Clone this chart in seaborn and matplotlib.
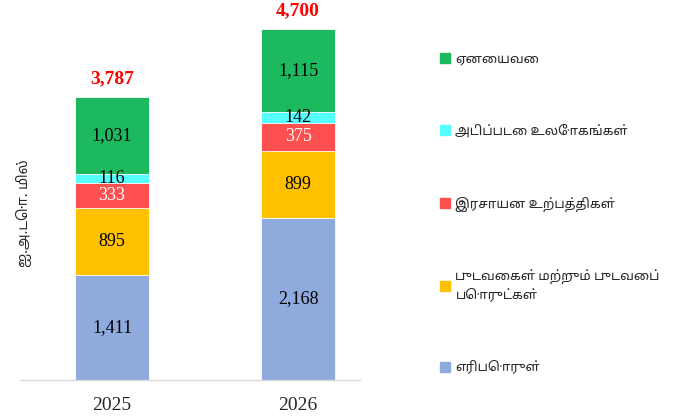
import matplotlib
matplotlib.use("Agg")
import matplotlib.pyplot as plt
import matplotlib.patches as mpatches
import numpy as np
import seaborn as sns

# data (US$ million), stacked bottom -> top
years = ["2025", "2026"]
categories = [
    "எரிபொருள்",
    "புடவைகள் மற்றும் புடவைப்\nபொருட்கள்",
    "இரசாயன உற்பத்திகள்",
    "அடிப்படை உலோகங்கள்",
    "ஏனையவை",
]
fuel = [1411, 2168]
textiles = [895, 899]
chemicals = [333, 375]
base_metals = [116, 142]
others = [1031, 1115]
totals = [3787, 4700]

colors = ["#8faadc", "#ffc000", "#ff5050", "#55ffff", "#1db95f"]
label_colors = ["black", "black", "white", "black", "black"]

tamil = ["Noto Sans Tamil", "DejaVu Sans"]
serif = ["Liberation Serif", "DejaVu Serif"]

sns.set_theme(style="white")
plt.rcParams["font.family"] = tamil

layers = [fuel, textiles, chemicals, base_metals, others]
cum = np.cumsum(np.array(layers), axis=0)

fig = plt.figure(figsize=(6.74, 4.16), dpi=100)
ax = fig.add_axes([20 / 674, 36 / 416, 340 / 674, 380 / 416])

# draw cumulative bars from the top layer down so each covers the previous
for i in range(len(layers) - 1, -1, -1):
    sns.barplot(x=years, y=cum[i], color=colors[i], width=0.4, ax=ax,
                edgecolor="white", linewidth=0.6, saturation=1)

for i, vals in enumerate(layers):
    for j, v in enumerate(vals):
        ax.text(j, cum[i][j] - v / 2, f"{v:,}", ha="center", va="center",
                fontsize=13, color=label_colors[i], family=serif)

for j, t in enumerate(totals):
    ax.text(j, t + 130, f"{t:,}", ha="center", va="bottom", fontsize=14,
            color="#ff0000", fontweight="bold", family=serif)

ax.set_xlim(-0.495, 1.333)
ax.set_ylim(0, 5088)
ax.set_yticks([])
ax.set_ylabel("ஐ.அ.டொ. மில்", fontsize=10, labelpad=2)
ax.yaxis.set_label_coords(0.035, 0.44)
for s in ["top", "right", "left"]:
    ax.spines[s].set_visible(False)
ax.spines["bottom"].set_color("#d9d9d9")
ax.spines["bottom"].set_linewidth(1)
ax.tick_params(axis="x", length=0, pad=12)
for lbl in ax.get_xticklabels():
    lbl.set_fontfamily(serif)
    lbl.set_fontsize(14)

handles = [mpatches.Patch(color=colors[i], label=categories[i])
           for i in range(len(categories) - 1, -1, -1)]
fig.legend(handles=handles, loc="upper left",
           bbox_to_anchor=(433 / 674, 1 - 46 / 416), frameon=False,
           fontsize=9.5, handlelength=0.8, handleheight=0.8,
           handletextpad=0.4, labelspacing=4.45, borderpad=0)

fig.savefig("out.png", dpi=100)
